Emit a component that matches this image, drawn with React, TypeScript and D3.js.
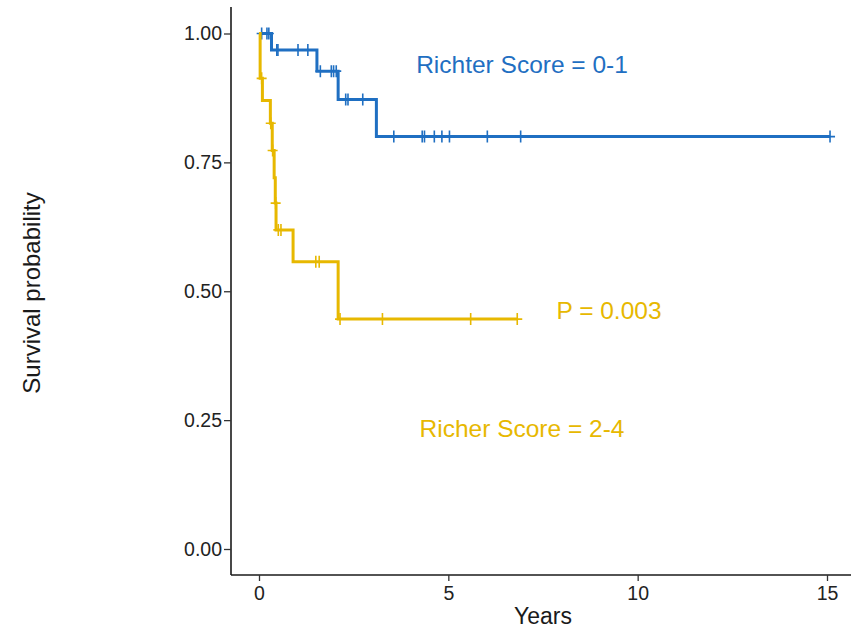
import React, { useEffect, useRef } from 'react';
import * as d3 from 'd3';

const width = 851;
const height = 630;

// step curves: time of each drop and the survival after it
const blueTimes = [0, 0.33, 1.53, 2.09, 3.1];
const blueSurv = [1, 0.968, 0.927, 0.872, 0.8];
const blueEnd = 15.08;
const blueCensor = [0.07, 0.21, 0.26, 0.47, 0.5, 1.03, 1.29, 1.62, 1.91, 1.97, 2.04, 2.29, 2.35, 2.74, 3.56, 4.31, 4.37, 4.63, 4.83, 5.03, 6.03, 6.91, 15.08];

const yellowTimes = [0, 0.03, 0.09, 0.3, 0.35, 0.4, 0.43, 0.45, 0.9, 2.09];
const yellowSurv = [1, 0.913, 0.87, 0.826, 0.773, 0.72, 0.671, 0.619, 0.557, 0.446];
const yellowEnd = 6.82;
const yellowCensor = [0.07, 0.31, 0.36, 0.44, 0.51, 0.58, 1.5, 1.59, 2.14, 3.26, 5.59, 6.82];

const xTicks = [0, 5, 10, 15];
const yTicks = [0, 0.25, 0.5, 0.75, 1];

const blue = '#1f6fc2';
const yellow = '#e7b800';
const font = '"Liberation Sans", Arial, sans-serif';

const x = d3.scaleLinear().domain([0, 15]).range([259, 827]);
const y = d3.scaleLinear().domain([0, 1]).range([549, 33.5]);

function survAt(times: number[], surv: number[], t: number) {
  const i = d3.bisectRight(times, t) - 1;
  return surv[Math.max(0, i)];
}

export default function App() {
  const ref = useRef<SVGSVGElement>(null);

  useEffect(() => {
    const svg = d3.select(ref.current);
    svg.selectAll('*').remove();

    // axes
    const xAxis = svg
      .append('g')
      .attr('transform', 'translate(0,575)')
      .call(d3.axisBottom(x).tickValues(xTicks).tickSize(6).tickPadding(5).tickFormat(d3.format('d')));
    xAxis.select('.domain').attr('d', 'M231,0H851');
    const yAxis = svg
      .append('g')
      .attr('transform', 'translate(231,0)')
      .call(d3.axisLeft(y).tickValues(yTicks).tickSize(7).tickPadding(2).tickFormat(d3.format('.2f')));
    yAxis.select('.domain').attr('d', 'M0,7V575');
    svg.selectAll('.domain').attr('stroke', '#1a1a1a').attr('stroke-width', 1.6);
    svg.selectAll('.tick line').attr('stroke', '#333').attr('stroke-width', 1.3);
    svg
      .selectAll('.tick text')
      .attr('font-family', font)
      .attr('font-size', 19.5)
      .attr('fill', '#222');

    const line = d3
      .line<[number, number]>()
      .x(d => x(d[0]))
      .y(d => y(d[1]))
      .curve(d3.curveStepAfter);

    const series = [
      { times: blueTimes, surv: blueSurv, end: blueEnd, censor: blueCensor, color: blue },
      { times: yellowTimes, surv: yellowSurv, end: yellowEnd, censor: yellowCensor, color: yellow }
    ];

    series.forEach(s => {
      const pts: [number, number][] = s.times.map((t, i) => [t, s.surv[i]]);
      pts.push([s.end, s.surv[s.surv.length - 1]]);
      svg
        .append('path')
        .attr('d', line(pts))
        .attr('fill', 'none')
        .attr('stroke', s.color)
        .attr('stroke-width', 3);
      svg
        .append('g')
        .selectAll('path')
        .data(s.censor)
        .join('path')
        .attr('d', t => {
          const cx = x(t);
          const cy = y(survAt(s.times, s.surv, t));
          return `M${cx},${cy - 6}V${cy + 6}M${cx - 5},${cy}H${cx + 5}`;
        })
        .attr('stroke', s.color)
        .attr('stroke-width', 1.6);
    });

    // labels
    const label = (tx: number, ty: number, txt: string, color: string, size: number) =>
      svg
        .append('text')
        .attr('x', tx)
        .attr('y', ty)
        .attr('text-anchor', 'middle')
        .attr('font-family', font)
        .attr('font-size', size)
        .attr('fill', color)
        .text(txt);

    label(522, 72.5, 'Richter Score = 0-1', blue, 24.5);
    label(609, 319, 'P = 0.003', yellow, 24.5);
    label(522, 437, 'Richer Score = 2-4', yellow, 24.5);
    label(543, 624, 'Years', '#1a1a1a', 23);
    svg
      .append('text')
      .attr('transform', 'translate(40,293) rotate(-90)')
      .attr('text-anchor', 'middle')
      .attr('font-family', font)
      .attr('font-size', 24)
      .attr('fill', '#1a1a1a')
      .text('Survival probability');
  }, []);

  return (
    <svg
      ref={ref}
      width={width}
      height={height}
      style={{ position: 'absolute', left: 0, top: 0, background: '#fff' }}
    />
  );
}
